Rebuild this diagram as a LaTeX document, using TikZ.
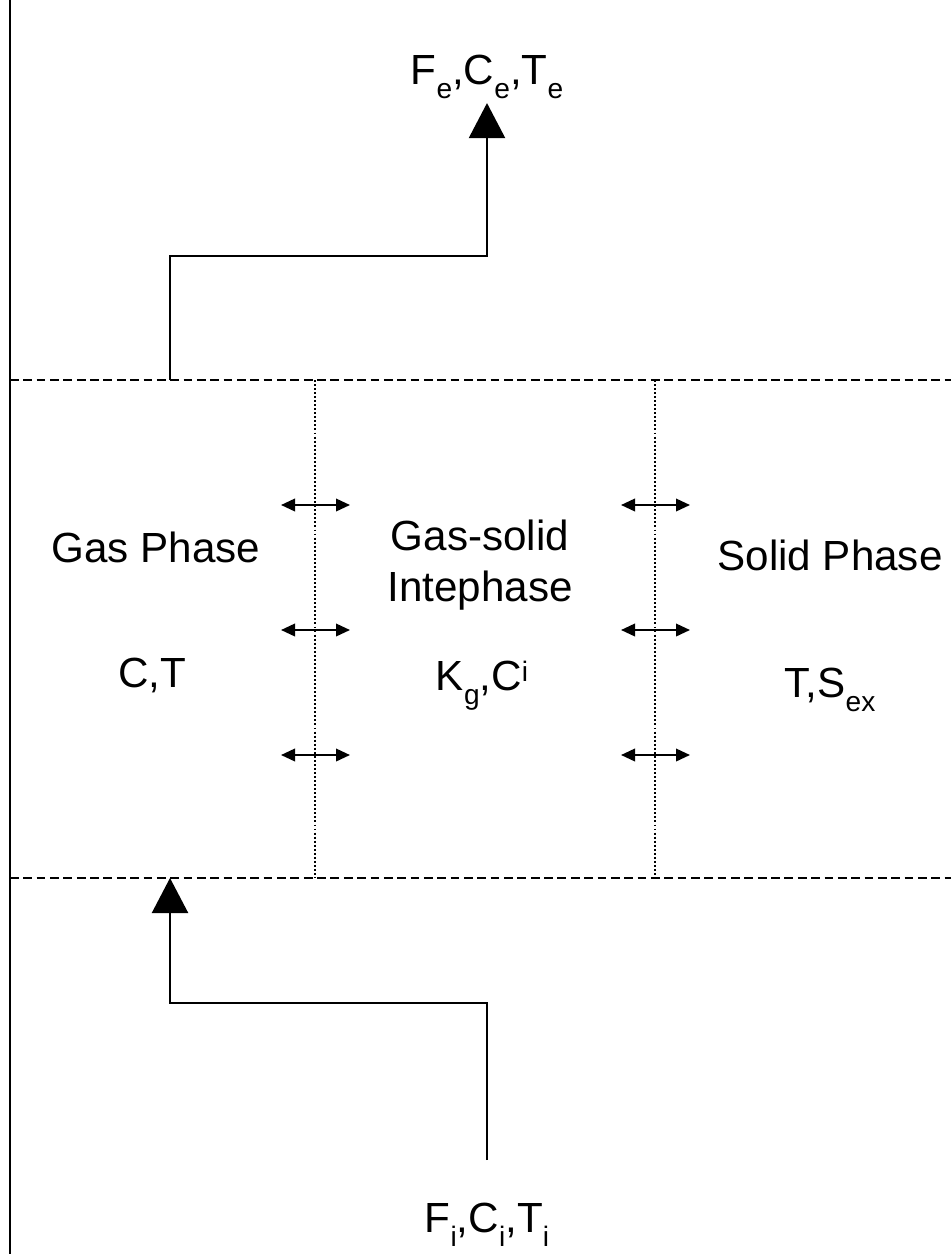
\documentclass[tikz,border=0pt]{standalone}
\usepackage{fontspec}
\setmainfont{Liberation Sans}
\usepackage{tikz}
\usetikzlibrary{arrows.meta,positioning,calc}

\newcommand{\lsub}[1]{\raisebox{-8.5pt}{\fontsize{16}{16}\selectfont #1}}
\newcommand{\hsup}[1]{\raisebox{5pt}{\fontsize{16}{16}\selectfont #1}}

\begin{document}
\begin{tikzpicture}[x=0.02cm, y=-0.02cm,
    lbl/.style={inner sep=2pt, font=\fontsize{24}{29}\selectfont, align=center},
    wall/.style={line width=1.2pt},
    bound/.style={line width=1.2pt, dash pattern=on 5pt off 2.6pt},
    iface/.style={line width=0.9pt, dash pattern=on 1.1pt off 1.2pt},
    flow/.style={-{Triangle[length=0.7cm, width=0.72cm]}, line width=1.3pt},
    xchg/.style={{Triangle[length=0.28cm, width=0.25cm]}-{Triangle[length=0.28cm, width=0.25cm]}, line width=1.2pt}
]
    \useasboundingbox (0,0) rectangle (951,1254);

    % reactor wall and phase boundaries
    \coordinate (walltop) at (10,0);
    \coordinate (wallbot) at (10,1254);
    \draw[wall] (walltop) -- (wallbot);

    \coordinate (upleft) at (10,380);
    \coordinate (upright) at (951,380);
    \coordinate (lowleft) at (10,878);
    \coordinate (lowright) at (951,878);
    \draw[bound] (upleft) -- (upright);
    \draw[bound] (lowleft) -- (lowright);

    % interfaces between the phases
    \coordinate (ifaceAtop) at (315,380);
    \coordinate (ifaceAbot) at (315,878);
    \coordinate (ifaceBtop) at (655,380);
    \coordinate (ifaceBbot) at (655,878);
    \draw[iface] (ifaceAtop) -- (ifaceAbot);
    \draw[iface] (ifaceBtop) -- (ifaceBbot);

    % exchange arrows across the interfaces
    \foreach \yy in {505,630,755} {
        \coordinate (aL) at (281,\yy);
        \coordinate (aR) at (350,\yy);
        \coordinate (bL) at (621,\yy);
        \coordinate (bR) at (690,\yy);
        \draw[xchg] (aL) -- (aR);
        \draw[xchg] (bL) -- (bR);
    }

    % phase labels
    \node[lbl, anchor=base] (gas) at (156,562) {Gas Phase};
    \node[lbl, anchor=base] (gasvar) at (152,687) {C,T};
    \node[lbl] (inter) at (480,565) {Gas-solid\\Intephase};
    \node[lbl, anchor=base] (intervar) at (482,690) {K\lsub{g},C\hsup{i}};
    \node[lbl, anchor=base] (solid) at (830,570) {Solid Phase};
    \node[lbl, anchor=base] (solidvar) at (830,697) {T,S\lsub{ex}};

    % outlet stream
    \node[lbl, anchor=base] (exit) at (487,84) {F\lsub{e},C\lsub{e},T\lsub{e}};
    \coordinate (gasout) at (170,380);
    \draw[flow] (gasout) -- ++(0,-124) -| (exit.south);

    % feed stream
    \node[lbl, anchor=base] (feed) at (487,1232) {F\lsub{i},C\lsub{i},T\lsub{i}};
    \coordinate (feedtop) at (487,1160);
    \coordinate (gasin) at (170,878);
    \draw[flow] (feedtop) -- ++(0,-157) -| (gasin);
\end{tikzpicture}
\end{document}
